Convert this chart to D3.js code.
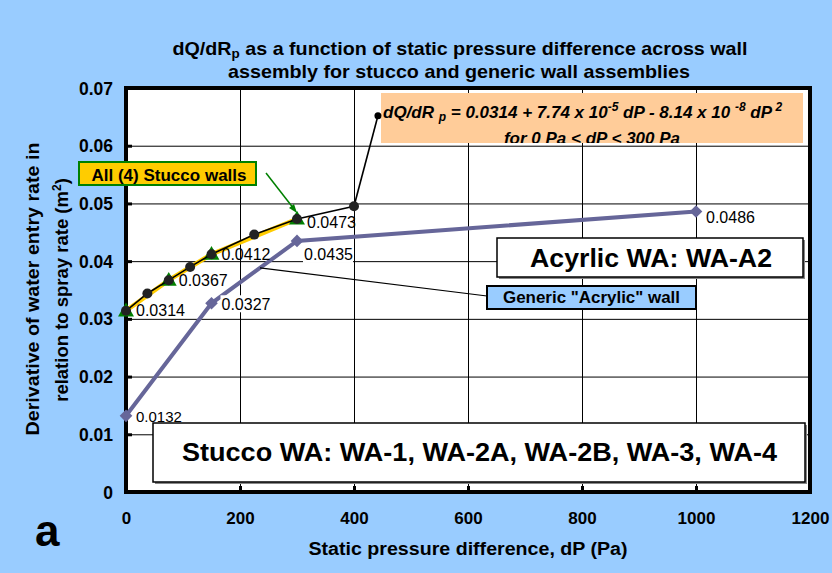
<!DOCTYPE html>
<html><head><meta charset="utf-8">
<script src="https://cdn.jsdelivr.net/npm/d3@7"></script>
<style>html,body{margin:0;padding:0;background:#99CCFF;}svg{display:block;font-family:Arial,"Liberation Sans",sans-serif;}</style>
</head><body>
<svg id="chart" width="832" height="573"></svg>
<script>
// ---- data ----
const xTicks = [0, 200, 400, 600, 800, 1000, 1200];
const xTickLabels = ["0", "200", "400", "600", "800", "1000", "1200"];
const yTicks = [0, 0.01, 0.02, 0.03, 0.04, 0.05, 0.06, 0.07];
const yTickLabels = ["0", "0.01", "0.02", "0.03", "0.04", "0.05", "0.06", "0.07"];

const stuccoFitDP = [0, 37.5, 75, 112.5, 150, 225, 300, 400];
const stuccoFitValue = [0.0314, 0.0344, 0.0367, 0.0390, 0.0412, 0.0446, 0.0473, 0.0495];

const stuccoWallDP = [0, 75, 150, 300];
const stuccoWallValue = [0.0314, 0.0367, 0.0412, 0.0473];

const acrylicDP = [0, 150, 300, 1000];
const acrylicValue = [0.0132, 0.0327, 0.0435, 0.0486];

const calloutEnd = [442, 0.0652];

// ---- layout ----
const svg = d3.select("#chart");
const L = 126, R = 810, T = 88, B = 492;
const x = d3.scaleLinear().domain([0, 1200]).range([L, R]);
const y = d3.scaleLinear().domain([0, 0.07]).range([B, T]);
const fmt = d3.format(".4f");

svg.append("rect").attr("width", 832).attr("height", 573).attr("fill", "#99CCFF");
svg.append("rect").attr("x", L).attr("y", T).attr("width", R - L).attr("height", B - T).attr("fill", "#fff");

// gridlines
svg.append("g").attr("transform", `translate(${L},0)`)
  .call(d3.axisLeft(y).tickValues(yTicks).tickSize(-(R - L)).tickFormat(""))
  .call(g => g.select(".domain").remove())
  .call(g => g.selectAll("line").attr("stroke", "#000").attr("stroke-width", 1));
svg.append("g").attr("transform", `translate(0,${B})`)
  .call(d3.axisBottom(x).tickValues(xTicks).tickSize(-(B - T)).tickFormat(""))
  .call(g => g.select(".domain").remove())
  .call(g => g.selectAll("line").attr("stroke", "#000").attr("stroke-width", 1));

// ---- axes / frame ----
const ya = svg.append("g").attr("transform", `translate(${L},0)`)
  .call(d3.axisLeft(y).tickValues(yTicks).tickSize(-6).tickPadding(13).tickFormat((d, i) => yTickLabels[i]));
ya.select(".domain").remove();
ya.selectAll("line").attr("stroke", "#000").attr("stroke-width", 3);
ya.selectAll("text").attr("font-size", 17.5).attr("font-weight", "bold").attr("fill", "#000")
  .attr("font-family", "Arial, 'Liberation Sans', sans-serif").attr("dy", "0.35em");
const xa = svg.append("g").attr("transform", `translate(0,${B})`)
  .call(d3.axisBottom(x).tickValues(xTicks).tickSize(-6).tickPadding(20).tickFormat((d, i) => xTickLabels[i]));
xa.select(".domain").remove();
xa.selectAll("line").attr("stroke", "#000").attr("stroke-width", 3);
xa.selectAll("text").attr("font-size", 17).attr("font-weight", "bold").attr("fill", "#000")
  .attr("font-family", "Arial, 'Liberation Sans', sans-serif").attr("dy", "0.71em");
svg.append("rect").attr("x", L).attr("y", T).attr("width", R - L).attr("height", B - T)
  .attr("fill", "none").attr("stroke", "#000").attr("stroke-width", 4);

// ---- equation box ----
const eqG = svg.append("g");
eqG.append("clipPath").attr("id", "eqclip").append("rect")
  .attr("x", 381).attr("y", 93).attr("width", 422).attr("height", 50);
eqG.append("rect").attr("x", 381).attr("y", 93).attr("width", 422).attr("height", 50).attr("fill", "#FFCC99");
const eqT = eqG.append("text").attr("x", 383).attr("y", 118)
  .attr("font-size", 17).attr("font-weight", "bold").attr("font-style", "italic");
eqT.append("tspan").text("dQ/dR ");
eqT.append("tspan").attr("font-size", 12).attr("dy", 3).text("p");
eqT.append("tspan").attr("dy", -3).text(" = 0.0314 + 7.74 x 10");
eqT.append("tspan").attr("font-size", 12).attr("dy", -7).text("-5");
eqT.append("tspan").attr("dy", 7).text(" dP - 8.14 x 10 ");
eqT.append("tspan").attr("font-size", 12).attr("dy", -7).text("-8");
eqT.append("tspan").attr("dy", 7).text(" dP");
eqT.append("tspan").attr("font-size", 12).attr("dy", -7).text(" 2");
eqG.append("text").attr("clip-path", "url(#eqclip)").attr("x", 592).attr("y", 144)
  .attr("text-anchor", "middle").attr("font-size", 17).attr("font-weight", "bold").attr("font-style", "italic")
  .text("for 0 Pa < dP < 300 Pa");

// ---- series ----
const line = d3.line().x(d => x(d[0])).y(d => y(d[1]));
const stuccoWall = stuccoWallDP.map((d, i) => [d, stuccoWallValue[i]]);
const stuccoFit = stuccoFitDP.map((d, i) => [d, stuccoFitValue[i]]);
const acrylic = acrylicDP.map((d, i) => [d, acrylicValue[i]]);

// acrylic
svg.append("path").datum(acrylic).attr("d", line).attr("fill", "none")
  .attr("stroke", "#666699").attr("stroke-width", 4);
svg.append("g").selectAll("path").data(acrylic).join("path")
  .attr("d", d3.symbol(d3.symbolSquare, 80)())
  .attr("transform", d => `translate(${x(d[0])},${y(d[1])}) rotate(45)`)
  .attr("fill", "#666699");

// stucco walls (yellow)
svg.append("path").datum(stuccoWall).attr("d", line).attr("fill", "none")
  .attr("stroke", "#FFCC00").attr("stroke-width", 4.5);
svg.append("g").selectAll("path").data(stuccoWall).join("path")
  .attr("d", d3.symbol(d3.symbolTriangle, 110)())
  .attr("transform", d => `translate(${x(d[0])},${y(d[1]) + 1})`)
  .attr("fill", "#008000");

// fit (black)
svg.append("path").datum(stuccoFit).attr("d", line).attr("fill", "none")
  .attr("stroke", "#000").attr("stroke-width", 1.6);
const last = stuccoFit[stuccoFit.length - 1];
svg.append("line").attr("x1", x(last[0])).attr("y1", y(last[1]))
  .attr("x2", x(calloutEnd[0])).attr("y2", y(calloutEnd[1])).attr("stroke", "#000").attr("stroke-width", 1.6);
svg.append("circle").attr("cx", x(calloutEnd[0])).attr("cy", y(calloutEnd[1])).attr("r", 3.5).attr("fill", "#000");
svg.append("g").selectAll("circle").data(stuccoFit).join("circle")
  .attr("cx", d => x(d[0])).attr("cy", d => y(d[1])).attr("r", 5).attr("fill", "#222");

// data labels
svg.append("g").selectAll("text").data(stuccoWall).join("text")
  .attr("x", d => x(d[0]) + 10).attr("y", (d, i) => y(d[1]) + (i === 3 ? 9 : 5.5))
  .attr("font-size", 16).text(d => fmt(d[1]));
const acrLab = svg.append("g").selectAll("g").data(acrylic).join("g")
  .attr("transform", (d, i) => `translate(${x(d[0]) + (i === 2 ? 7 : 10)},${y(d[1]) + (i === 2 ? 14 : (i === 3 ? 6 : 1))})`);
acrLab.append("rect").attr("x", -1).attr("y", -9).attr("height", 17)
  .attr("width", (d, i) => i === 0 ? 0 : 50).attr("fill", "#fff");
acrLab.append("text").attr("y", 5.5).attr("font-size", (d, i) => i === 0 ? 15 : 16).text(d => fmt(d[1]));

// ---- annotation boxes ----
// All (4) Stucco walls
svg.append("line").attr("x1", 266).attr("y1", 173).attr("x2", 294).attr("y2", 209)
  .attr("stroke", "#008000").attr("stroke-width", 1.5);
svg.append("path").attr("d", "M297,213 L289,208 L294,204 Z").attr("fill", "#008000");
svg.append("rect").attr("x", 79).attr("y", 162).attr("width", 177).attr("height", 23)
  .attr("fill", "#FFCC00").attr("stroke", "#008000").attr("stroke-width", 2);
svg.append("text").attr("x", 169).attr("y", 180.5).attr("text-anchor", "middle")
  .attr("font-size", 16.5).attr("font-weight", "bold").attr("textLength", 155).attr("lengthAdjust", "spacingAndGlyphs")
  .text("All (4) Stucco walls");

// Acrylic box
svg.append("rect").attr("x", 499).attr("y", 240).attr("width", 306).attr("height", 39).attr("fill", "#888");
svg.append("rect").attr("x", 497).attr("y", 238).attr("width", 306).attr("height", 39)
  .attr("fill", "#fff").attr("stroke", "#000").attr("stroke-width", 1.5);
svg.append("text").attr("x", 651).attr("y", 267).attr("text-anchor", "middle")
  .attr("font-size", 25).attr("font-weight", "bold").attr("textLength", 242).attr("lengthAdjust", "spacingAndGlyphs")
  .text("Acyrlic WA: WA-A2");

// Generic leader + box
const t = (235 - acrylicDP[1]) / (acrylicDP[2] - acrylicDP[1]);
const lx = x(235), ly = y(acrylicValue[1] + t * (acrylicValue[2] - acrylicValue[1]));
svg.append("line").attr("x1", lx).attr("y1", ly).attr("x2", 487).attr("y2", 296)
  .attr("stroke", "#000").attr("stroke-width", 1.2);
svg.append("rect").attr("x", 487).attr("y", 286).attr("width", 209).attr("height", 23)
  .attr("fill", "#99CCFF").attr("stroke", "#000").attr("stroke-width", 2);
svg.append("text").attr("x", 591.5).attr("y", 303).attr("text-anchor", "middle")
  .attr("font-size", 16).attr("font-weight", "bold").attr("textLength", 177).attr("lengthAdjust", "spacingAndGlyphs")
  .text('Generic "Acrylic" wall');

// Stucco box
svg.append("rect").attr("x", 155).attr("y", 425).attr("width", 652).attr("height", 59).attr("fill", "#888");
svg.append("rect").attr("x", 153).attr("y", 423).attr("width", 652).attr("height", 59)
  .attr("fill", "#fff").attr("stroke", "#000").attr("stroke-width", 1.5);
svg.append("text").attr("x", 479.5).attr("y", 461).attr("text-anchor", "middle")
  .attr("font-size", 25).attr("font-weight", "bold").attr("textLength", 595).attr("lengthAdjust", "spacingAndGlyphs")
  .text("Stucco WA: WA-1, WA-2A, WA-2B, WA-3, WA-4");

// ---- titles ----
const t1 = svg.append("text").attr("x", 460).attr("y", 55).attr("text-anchor", "middle")
  .attr("font-size", 19).attr("font-weight", "bold").attr("textLength", 575).attr("lengthAdjust", "spacingAndGlyphs");
t1.append("tspan").text("dQ/dR");
t1.append("tspan").attr("font-size", 13).attr("dy", 3).text("p");
t1.append("tspan").attr("dy", -3).text(" as a function of static pressure difference across wall");
svg.append("text").attr("x", 459).attr("y", 78).attr("text-anchor", "middle")
  .attr("font-size", 19).attr("font-weight", "bold").attr("textLength", 462).attr("lengthAdjust", "spacingAndGlyphs")
  .text("assembly for stucco and generic wall assemblies");

svg.append("text").attr("transform", "translate(39,289) rotate(-90)").attr("text-anchor", "middle")
  .attr("font-size", 18.5).attr("font-weight", "bold").attr("textLength", 293).attr("lengthAdjust", "spacingAndGlyphs")
  .text("Derivative of water entry rate in");
const yl2 = svg.append("text").attr("transform", "translate(68,290) rotate(-90)").attr("text-anchor", "middle")
  .attr("font-size", 18.5).attr("font-weight", "bold");
yl2.append("tspan").text("relation to spray rate (m");
yl2.append("tspan").attr("font-size", 12).attr("dy", -7).text("2");
yl2.append("tspan").attr("dy", 7).text(")");

svg.append("text").attr("x", 468).attr("y", 555).attr("text-anchor", "middle")
  .attr("font-size", 18).attr("font-weight", "bold").attr("textLength", 319).attr("lengthAdjust", "spacingAndGlyphs")
  .text("Static pressure difference, dP (Pa)");

svg.append("text").attr("x", 35).attr("y", 546).attr("font-size", 44).attr("font-weight", "bold").text("a");
</script>
</body></html>
